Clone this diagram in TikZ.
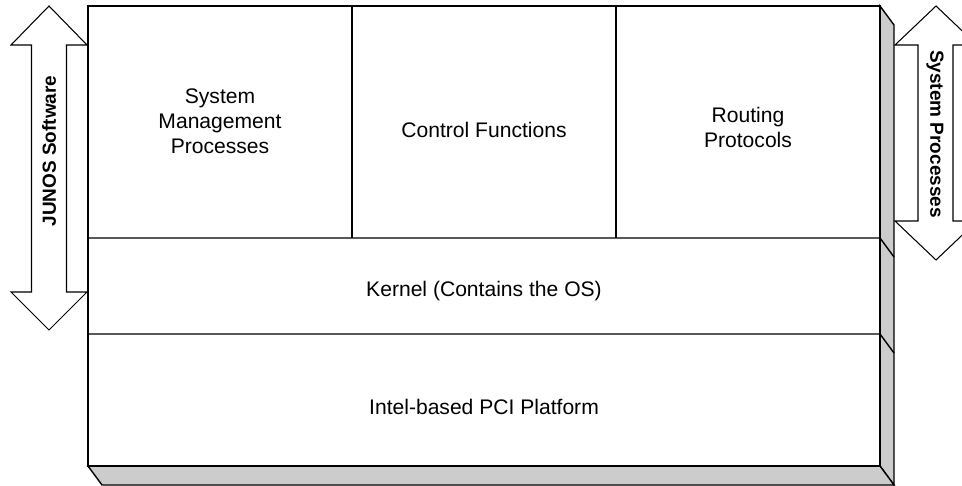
\documentclass[tikz,border=0pt]{standalone}
\usepackage{fontspec}
\setmainfont{Liberation Sans}
\usetikzlibrary{positioning}
\definecolor{sidegray}{RGB}{204,204,204}
\tikzset{
    layerline/.style={line width=0.8pt, line join=miter},
    celltext/.style={align=center, font=\fontsize{12}{14.2}\selectfont},
    arrowtext/.style={font=\fontsize{10.8}{12}\selectfont\bfseries}
}

\begin{document}
\begin{tikzpicture}[x=0.02cm, y=-0.02cm]
    \clip (0,0) rectangle (962,486);

    % Side and bottom faces
    \draw[layerline, fill=sidegray] (880,6) -- (894,25) -- (894,485) -- (880,466) -- cycle;
    \draw[layerline, fill=sidegray] (88,466) -- (102,485) -- (894,485) -- (880,466) -- cycle;

    % Front face
    \draw[layerline, fill=white] (88,6) rectangle (880,466);
    \draw[layerline] (88,238) -- (880,238) -- (894,257);
    \draw[layerline] (88,334) -- (880,334) -- (894,353);
    \draw[layerline] (352,6) -- (352,238);
    \draw[layerline] (616,6) -- (616,238);

    % Top layer
    \node[celltext] (sysmgmt) at (220,121) {System\\Management\\Processes};
    \node[celltext] (control) at (484,130) {Control Functions};
    \node[celltext] (routing) at (748,127) {Routing\\Protocols};

    % Kernel
    \node[celltext] (kernel) at (484,291) {Kernel (Contains the OS)};

    % Platform
    \node[celltext] (platform) at (484,407) {Intel-based PCI Platform};

    % Left arrow
    \draw[layerline, line width=0.6pt, fill=white] (49,6) -- (87,45) -- (66.5,45) -- (66.5,292) -- (87,292)
        -- (49,330) -- (11,292) -- (31.5,292) -- (31.5,45) -- (11,45) -- cycle;
    \node[arrowtext, rotate=90] (junos) at (49,151) {JUNOS Software};

    % Right arrow
    \draw[layerline, line width=0.6pt, fill=white] (936,6) -- (977,45) -- (953,45) -- (953,221) -- (977,221)
        -- (936,260) -- (895,221) -- (918,221) -- (918,45) -- (895,45) -- cycle;
    \node[arrowtext, rotate=-90] (sysproc) at (935,134) {System Processes};
\end{tikzpicture}
\end{document}
